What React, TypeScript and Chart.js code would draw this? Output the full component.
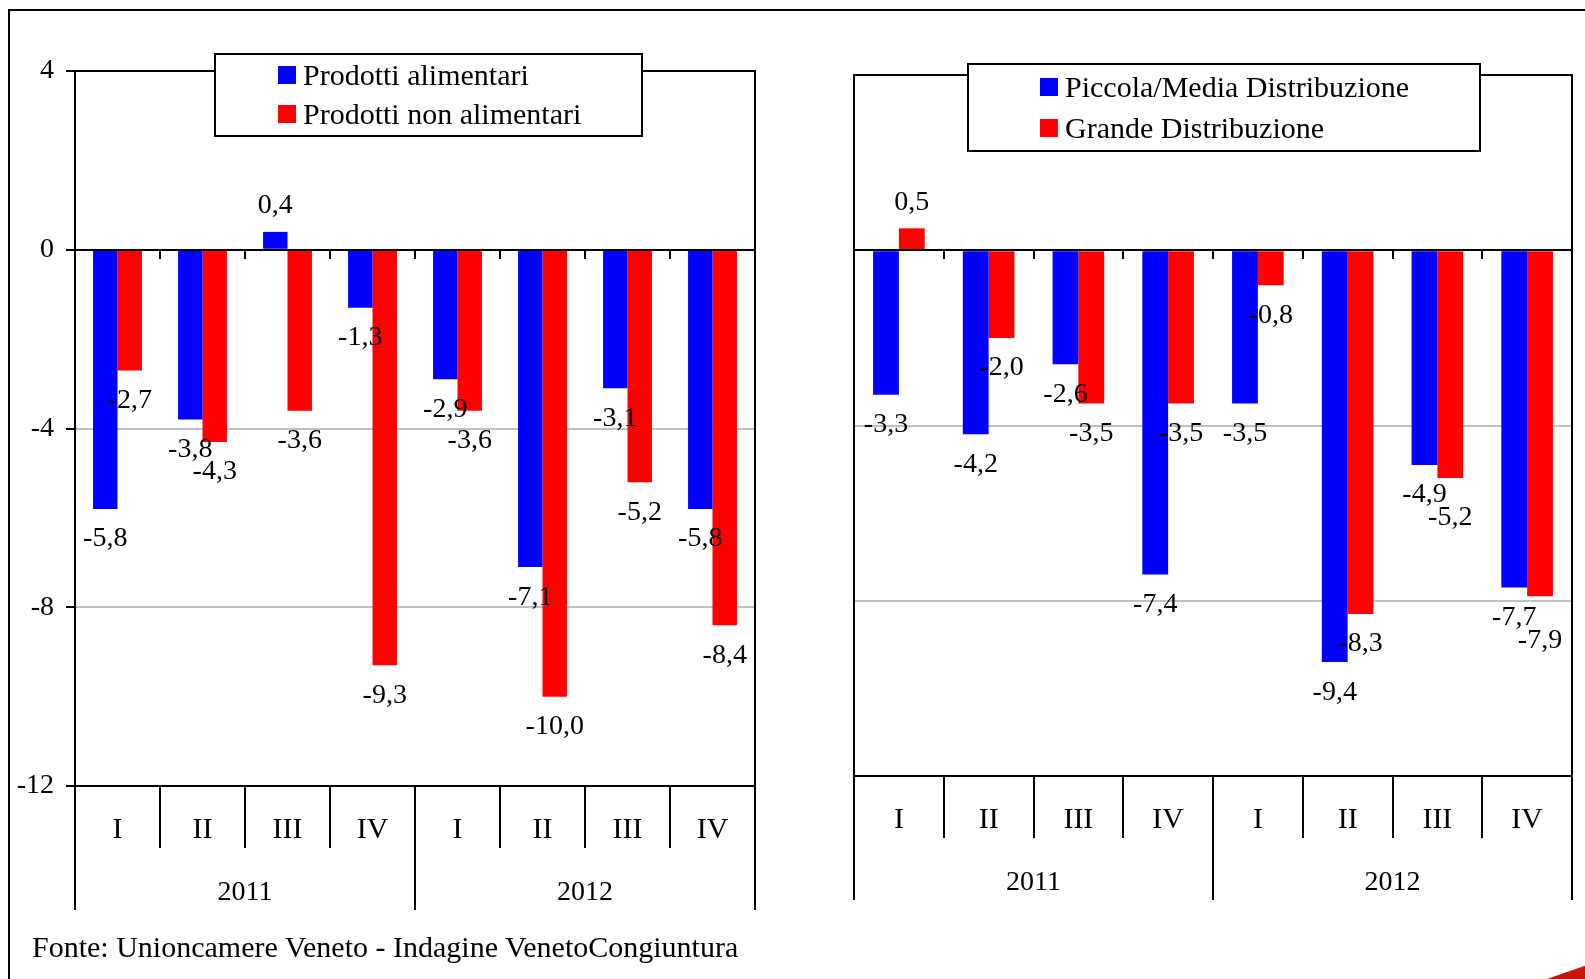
import React, { useEffect, useRef } from "react";
import { Chart, registerables } from "chart.js";

Chart.register(...registerables);

// Categories: quarters grouped by year
const quarters = ["I", "II", "III", "IV", "I", "II", "III", "IV"];
const years = ["2011", "2012"];

// Left panel: by product type
const alimentari = [-5.8, -3.8, 0.4, -1.3, -2.9, -7.1, -3.1, -5.8];
const nonAlimentari = [-2.7, -4.3, -3.6, -9.3, -3.6, -10.0, -5.2, -8.4];

// Right panel: by distribution channel
const piccolaMedia = [-3.3, -4.2, -2.6, -7.4, -3.5, -9.4, -4.9, -7.7];
const grande = [0.5, -2.0, -3.5, -3.5, -0.8, -8.3, -5.2, -7.9];

// Value axis
const yTicks = [4, 0, -4, -8, -12];
const yMin = -12;
const yMax = 4;

const FONT = '"Liberation Serif", "Times New Roman", serif';
const BLUE = "#0000ff";
const RED = "#ff0000";

const fmt = (v: number) => v.toFixed(1).replace(".", ",");

type LegendOpts = {
  box: { x: number; y: number; w: number; h: number };
  squareX: number;
  rows: number[];
  textX: number;
};

function drawValueLabels(chart: any) {
  const ctx = chart.ctx;
  ctx.save();
  ctx.font = `28px ${FONT}`;
  ctx.fillStyle = "#000";
  ctx.textAlign = "center";
  ctx.textBaseline = "alphabetic";
  const placed: { cx: number; cy: number; w: number }[] = [];
  const h = 22;
  const n = chart.data.labels.length;
  for (let i = 0; i < n; i++) {
    chart.data.datasets.forEach((ds: any, di: number) => {
      const el = chart.getDatasetMeta(di).data[i];
      const v = ds.data[i] as number;
      const text = fmt(v);
      const w = ctx.measureText(text).width;
      const cx = el.x;
      let cy = v < 0 ? el.y + 28 : el.y - 28;
      // push a label clear of its neighbour when the two would collide
      let moved = true;
      let guard = 0;
      while (moved && guard < 20) {
        moved = false;
        guard++;
        for (const r of placed) {
          if (Math.abs(r.cx - cx) < (r.w + w) / 2 && Math.abs(r.cy - cy) < h) {
            cy = v < 0 ? r.cy + h + 1 : r.cy - h - 1;
            moved = true;
          }
        }
      }
      placed.push({ cx, cy, w });
      ctx.fillText(text, cx, cy + 9.5);
    });
  }
  ctx.restore();
}

const decorPlugin = {
  id: "decor",
  afterDatasetsDraw(chart: any) {
    const ctx = chart.ctx;
    const { left, right, top, bottom } = chart.chartArea;
    const xs = chart.scales.x;
    const ys = chart.scales.y;
    const n = chart.data.labels.length;
    const bounds: number[] = [left];
    for (let i = 0; i < n - 1; i++) {
      bounds.push((xs.getPixelForValue(i) + xs.getPixelForValue(i + 1)) / 2);
    }
    bounds.push(right);

    ctx.save();
    ctx.strokeStyle = "#000";
    ctx.lineWidth = 2;

    // zero line with small category ticks
    const y0 = Math.round(ys.getPixelForValue(0));
    ctx.beginPath();
    ctx.moveTo(left, y0);
    ctx.lineTo(right, y0);
    for (let k = 1; k < n; k++) {
      const bx = Math.round(bounds[k]);
      ctx.moveTo(bx, y0);
      ctx.lineTo(bx, y0 + 9);
    }
    ctx.stroke();

    // plot frame
    ctx.strokeRect(left, top, right - left, bottom - top);

    // two-level category axis below the plot
    ctx.beginPath();
    for (let k = 0; k <= n; k++) {
      const bx = Math.round(bounds[k]);
      const len = k % 4 === 0 ? 124 : 62;
      ctx.moveTo(bx, bottom);
      ctx.lineTo(bx, bottom + len);
    }
    ctx.stroke();

    ctx.fillStyle = "#000";
    ctx.textAlign = "center";
    ctx.textBaseline = "alphabetic";
    ctx.font = `30px ${FONT}`;
    quarters.forEach((q, i) => {
      ctx.fillText(q, xs.getPixelForValue(i), bottom + 42 + 10);
    });
    ctx.font = `28px ${FONT}`;
    years.forEach((yr, g) => {
      const cx = (bounds[g * 4] + bounds[g * 4 + 4]) / 2;
      ctx.fillText(yr, cx, bottom + 104 + 9.5);
    });
    ctx.restore();

    drawValueLabels(chart);
  },
  afterDraw(chart: any, _args: any, opts: LegendOpts) {
    if (!opts || !opts.box) return;
    const ctx = chart.ctx;
    const { box, squareX, rows, textX } = opts;
    ctx.save();
    ctx.fillStyle = "#fff";
    ctx.fillRect(box.x, box.y, box.w, box.h);
    ctx.strokeStyle = "#000";
    ctx.lineWidth = 2;
    ctx.strokeRect(box.x, box.y, box.w, box.h);
    ctx.font = `30px ${FONT}`;
    ctx.textAlign = "left";
    ctx.textBaseline = "alphabetic";
    chart.data.datasets.forEach((ds: any, di: number) => {
      const cy = rows[di];
      ctx.fillStyle = ds.backgroundColor;
      ctx.fillRect(squareX, cy - 9, 18, 18);
      ctx.fillStyle = "#000";
      ctx.fillText(ds.label, textX, cy + 10);
    });
    ctx.restore();
  },
};

type PanelProps = {
  left: number;
  width: number;
  series: { label: string; data: number[]; color: string }[];
  padding: { left: number; right: number; top: number; bottom: number };
  axisWidth: number;
  showTicks: boolean;
  legend: LegendOpts;
};

const HEIGHT = 979;

function Panel({ left, width, series, padding, axisWidth, showTicks, legend }: PanelProps) {
  const ref = useRef<HTMLCanvasElement | null>(null);

  useEffect(() => {
    if (!ref.current) return;
    const chart = new Chart(ref.current, {
      type: "bar",
      data: {
        labels: quarters,
        datasets: series.map((s) => ({
          label: s.label,
          data: s.data,
          backgroundColor: s.color,
          borderWidth: 0,
          barPercentage: 1,
          categoryPercentage: 0.575,
        })),
      },
      options: {
        responsive: false,
        animation: false,
        events: [],
        layout: { padding },
        plugins: {
          legend: { display: false },
          tooltip: { enabled: false },
          decor: legend,
        } as any,
        scales: {
          x: { display: false },
          y: {
            min: yMin,
            max: yMax,
            afterBuildTicks: (scale: any) => {
              scale.ticks = yTicks.map((v) => ({ value: v }));
            },
            afterFit: (scale: any) => {
              scale.width = axisWidth;
            },
            border: { display: false },
            grid: {
              color: (c: any) =>
                c.tick && (c.tick.value === -4 || c.tick.value === -8) ? "#c0c0c0" : "rgba(0,0,0,0)",
              lineWidth: 2,
              drawTicks: showTicks,
              tickLength: 9,
              tickWidth: 2,
              tickColor: "#000",
            },
            ticks: {
              display: showTicks,
              color: "#000",
              padding: 12,
              font: { family: FONT, size: 28 },
              callback: (v: any) => String(v),
            },
          },
        },
      },
      plugins: [decorPlugin as any],
    });
    return () => chart.destroy();
  }, []);

  return (
    <canvas
      ref={ref}
      width={width}
      height={HEIGHT}
      style={{ position: "absolute", left, top: 0, width, height: HEIGHT }}
    />
  );
}

export default function App() {
  return (
    <div
      style={{
        position: "fixed",
        left: 0,
        top: 0,
        width: 1585,
        height: 979,
        overflow: "hidden",
        background: "#fff",
      }}
    >
      <div
        style={{
          position: "absolute",
          left: 8,
          top: 9,
          width: 2000,
          height: 2000,
          borderTop: "2px solid #000",
          borderLeft: "2px solid #000",
        }}
      />
      <Panel
        left={0}
        width={780}
        series={[
          { label: "Prodotti alimentari", data: alimentari, color: BLUE },
          { label: "Prodotti non alimentari", data: nonAlimentari, color: RED },
        ]}
        padding={{ left: 0, right: 25, top: 71, bottom: 193 }}
        axisWidth={75}
        showTicks={true}
        legend={{
          box: { x: 215, y: 54, w: 427, h: 82 },
          squareX: 278,
          rows: [75, 114],
          textX: 303,
        }}
      />
      <Panel
        left={800}
        width={785}
        series={[
          { label: "Piccola/Media Distribuzione", data: piccolaMedia, color: BLUE },
          { label: "Grande Distribuzione", data: grande, color: RED },
        ]}
        padding={{ left: 54, right: 13, top: 75, bottom: 203 }}
        axisWidth={0}
        showTicks={false}
        legend={{
          box: { x: 168, y: 64, w: 512, h: 87 },
          squareX: 240,
          rows: [87, 128],
          textX: 265,
        }}
      />
      <div
        style={{
          position: "absolute",
          left: 32,
          top: 930,
          fontFamily: FONT,
          fontSize: 30,
          lineHeight: "34px",
          color: "#000",
          whiteSpace: "nowrap",
        }}
      >
        Fonte: Unioncamere Veneto - Indagine VenetoCongiuntura
      </div>
      <div
        style={{
          position: "absolute",
          left: 1547,
          top: 960,
          width: 38,
          height: 19,
          background: "#c4160c",
          clipPath: "polygon(0% 100%, 100% 30%, 100% 100%)",
        }}
      />
    </div>
  );
}
